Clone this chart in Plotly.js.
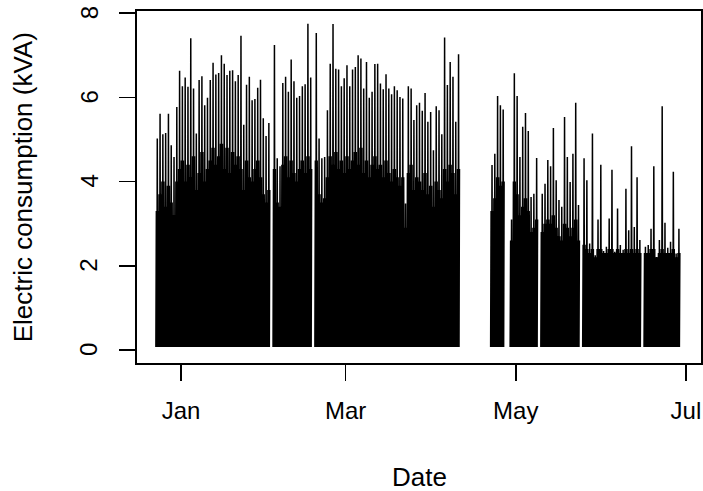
<!DOCTYPE html>
<html>
<head>
<meta charset="utf-8">
<script src="https://cdn.plot.ly/plotly-3.0.1.min.js"></script>
<style>
  html, body { margin: 0; padding: 0; background: #fff; }
  #myDiv { width: 703px; height: 491px; }
</style>
</head>
<body>
<div id="myDiv"></div>
<script>
// one entry per day starting 2012-12-23; null = no readings that day
var firstDay = [2012, 11, 23];

// daily highest spike (kVA)
var dailyPeak = [
  5.02, 5.61, 5.12, 5.15, 5.61, 4.86, 4.58, 5.77, 6.63, 6.26,
  6.47, 6.25, 7.40, 6.21, 5.14, 6.41, 6.50, 5.81, 5.99, 6.41,
  6.82, 6.54, 6.58, 7.00, 6.80, 6.53, 6.63, 6.64, 6.38, 6.53,
  7.46, 5.35, 6.30, 6.49, 5.93, 5.96, 6.23, 6.42, 5.50, 5.08,
  5.39, null, 7.24, 4.55, 4.36, 6.34, 6.49, 6.13, 6.90, 6.38,
  5.99, 6.03, 6.26, 6.31, 7.75, 6.47, null, 7.53, 5.02, 4.55,
  4.58, 5.69, 6.80, 7.74, 6.68, 6.66, 6.26, 6.45, 6.76, 6.26,
  6.66, 6.72, 7.00, 6.92, 6.21, 6.84, 5.99, 6.13, 6.79, 6.80,
  6.33, 6.19, 6.55, 6.21, 6.07, 6.26, 6.17, 6.01, 5.97, 3.48,
  6.26, 6.21, 5.46, 5.81, 5.87, 5.68, 6.10, 5.42, 5.65, 4.74,
  5.79, 5.69, 5.12, 7.42, 6.29, 6.84, 6.49, 5.42, 7.02, null,
  null, null, null, null, null, null, null, null, null, null,
  4.39, 4.66, 6.03, 5.81, 5.71, null, null, 3.10, 6.57, 6.03,
  4.58, 5.30, 5.63, 5.20, 3.63, 3.71, 4.56, null, 3.71, 3.95,
  4.51, 4.36, 5.27, 4.03, 3.56, 3.40, 5.53, 4.58, 3.99, 4.66,
  5.87, 3.44, null, 4.55, 4.03, 2.53, 5.14, 2.25, 3.10, 4.40,
  2.35, 2.45, 3.12, 4.28, 2.33, 3.36, 2.49, 2.38, 3.83, 2.84,
  4.84, 2.92, 4.10, 2.61, null, 2.45, 2.49, 2.88, 4.36, 2.21,
  2.61, 5.79, 3.02, 2.43, 2.57, 4.23, 2.29, 2.88
];

// typical daytime level (top of the dense band, kVA)
var dailyLevel = [
  3.3, 3.7, 4.0, 3.4, 3.9, 3.5, 3.2, 4.0, 4.3, 4.5,
  4.0, 4.4, 4.1, 4.6, 3.8, 4.2, 4.7, 4.0, 4.3, 4.5,
  4.8, 4.4, 4.6, 4.9, 4.3, 4.8, 4.2, 4.7, 4.4, 4.6,
  4.3, 3.8, 4.5, 4.1, 4.0, 4.3, 4.5, 4.1, 3.7, 3.5,
  3.8, null, 4.3, 3.5, 3.4, 4.4, 4.6, 4.1, 4.5, 4.2,
  4.0, 4.3, 4.5, 4.2, 4.6, 4.3, null, 4.5, 3.7, 3.5,
  3.6, 4.1, 4.6, 4.4, 4.7, 4.3, 4.5, 4.2, 4.6, 4.3,
  4.5, 4.7, 4.4, 4.8, 4.2, 4.5, 4.1, 4.4, 4.6, 4.3,
  4.4, 4.1, 4.5, 4.2, 4.0, 4.3, 4.1, 3.9, 4.1, 2.9,
  4.2, 4.4, 3.8, 4.1, 4.0, 3.8, 4.2, 3.7, 3.9, 3.4,
  4.0, 3.8, 3.6, 4.3, 4.0, 4.4, 4.2, 3.7, 4.3, null,
  null, null, null, null, null, null, null, null, null, null,
  3.3, 3.6, 4.1, 3.9, 4.0, null, null, 2.6, 4.0, 3.7,
  3.2, 3.4, 3.6, 3.3, 2.8, 2.9, 3.1, null, 2.8, 3.0,
  3.1, 3.0, 3.2, 2.9, 2.7, 2.6, 3.0, 2.9, 2.7, 2.9,
  3.1, 2.6, null, 2.5, 2.4, 2.3, 2.4, 2.2, 2.4, 2.4,
  2.3, 2.3, 2.4, 2.4, 2.3, 2.4, 2.3, 2.3, 2.4, 2.3,
  2.4, 2.3, 2.4, 2.3, null, 2.3, 2.3, 2.4, 2.4, 2.2,
  2.3, 2.4, 2.3, 2.3, 2.3, 2.4, 2.2, 2.3
];

// night-time base load (kVA)
var baseLoad = 0.07;

// readings within a day: hour and which value it takes
var readHours = [0, 4, 8, 12, 16, 20];
var readKind  = ['base', 'level', 'base', 'peak', 'base', 'level'];

var yTicks = [0, 2, 4, 6, 8];

function stamp(i, h) {
  var d = new Date(Date.UTC(firstDay[0], firstDay[1], firstDay[2] + i, h));
  return d.toISOString().slice(0, 19).replace('T', ' ');
}

var xs = [], ys = [];
dailyPeak.forEach(function(p, i) {
  if (p === null) { xs.push(stamp(i, 12)); ys.push(null); return; }
  var v = {base: baseLoad, level: dailyLevel[i], peak: p};
  readHours.forEach(function(h, k) {
    xs.push(stamp(i, h));
    ys.push(v[readKind[k]]);
  });
});

var data = [{
  type: 'scatter', mode: 'lines', x: xs, y: ys,
  connectgaps: false,
  line: {color: '#000000', width: 1.5}
}];

var axisStyle = {
  showline: true, mirror: true, linecolor: '#000', linewidth: 1.6,
  ticks: 'outside', ticklen: 16, tickwidth: 1.6, tickcolor: '#000',
  showgrid: false, zeroline: false, fixedrange: true
};

// R draws the y tick labels turned a quarter turn
var annotations = yTicks.map(function(v) {
  return {
    text: String(v), xref: 'paper', yref: 'y', x: -0.085, y: v,
    xanchor: 'center', yanchor: 'middle', textangle: -90,
    showarrow: false, font: {size: 24}
  };
});
annotations.push({
  text: 'Date', xref: 'paper', yref: 'paper', x: 0.5, y: -0.324,
  xanchor: 'center', yanchor: 'middle', showarrow: false, font: {size: 26}
});
annotations.push({
  text: 'Electric consumption (kVA)', xref: 'paper', yref: 'paper',
  x: -0.2016, y: 0.5, xanchor: 'center', yanchor: 'middle',
  textangle: -90, showarrow: false, font: {size: 26}
});

var layout = {
  width: 703, height: 491,
  margin: {l: 137, r: 2, t: 11, b: 128, pad: 0},
  paper_bgcolor: '#fff', plot_bgcolor: '#fff',
  showlegend: false,
  font: {family: 'Liberation Sans, Arial, sans-serif', size: 24, color: '#000'},
  xaxis: Object.assign({}, axisStyle, {
    type: 'date',
    range: ['2012-12-16 05:30', '2013-07-06 10:00'],
    tickvals: ['2013-01-01', '2013-03-01', '2013-05-01', '2013-07-01'],
    ticktext: ['Jan', 'Mar', 'May', 'Jul'],
    ticklabelstandoff: 10
  }),
  yaxis: Object.assign({}, axisStyle, {
    range: [-0.31, 8.05],
    tickvals: yTicks,
    showticklabels: false
  }),
  annotations: annotations
};

Plotly.newPlot('myDiv', data, layout, {staticPlot: true});
</script>
</body>
</html>
